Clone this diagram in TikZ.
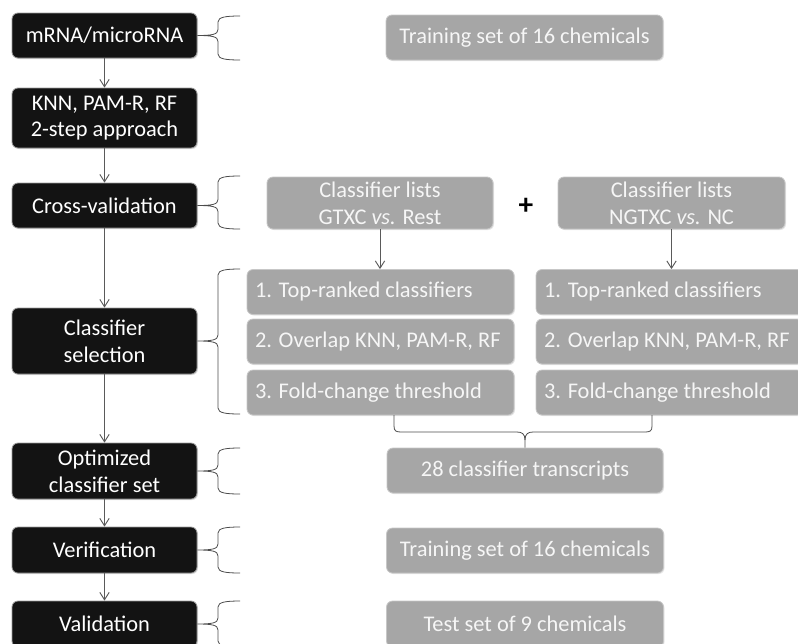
\documentclass[tikz,border=0pt]{standalone}
\usepackage{fontspec}
\setmainfont{Carlito}
\usetikzlibrary{arrows.meta,shadows}
\definecolor{blk}{HTML}{131313}
\definecolor{gbox}{HTML}{A6A6A6}
\definecolor{gtext}{HTML}{F6F6F6}
\definecolor{lineg}{HTML}{5A5A5A}
\newcommand\lbrc[4]{% node, top, bottom, mid
  \draw[brc] (240,#2) .. controls (226,#2) and (218,#2+1) .. (218,#2+6)
    -- (218,#4-6) .. controls (218,#4-1) and (212,#4) .. (#1.east)
    .. controls (212,#4) and (218,#4+1) .. (218,#4+6)
    -- (218,#3-6) .. controls (218,#3-1) and (226,#3) .. (240,#3);}
\begin{document}
\begin{tikzpicture}[x=0.75pt,y=-0.75pt,
  f/.style={font=\fontsize{16.8}{20}\selectfont},
  wh/.style 2 args={minimum width=#1*0.75pt, minimum height=#2*0.75pt},
  bbox/.style={f, rectangle, rounded corners=4.5pt, fill=blk, draw=black!40, line width=0.6pt,
    text=white, align=center, inner sep=0pt,
    drop shadow={shadow xshift=0.8pt, shadow yshift=-0.8pt, opacity=0.25}},
  gbx/.style={f, rectangle, rounded corners=4.5pt, fill=gbox, draw=black!22, line width=0.6pt,
    text=gtext, align=center, inner sep=0pt,
    drop shadow={shadow xshift=0.8pt, shadow yshift=-0.8pt, opacity=0.2}},
  stg/.style={gbx, text width=251*0.75pt, inner xsep=6pt, align=flush left, minimum height=45*0.75pt},
  conn/.style={draw=lineg, line width=0.7pt, -{Straight Barb[length=5.5pt,width=7pt]}},
  brc/.style={draw=black!70, line width=0.6pt}]
\useasboundingbox (0,0) rectangle (798,643);
\clip (0,0) rectangle (798,643);

% left column
\node[bbox, wh={185}{45}] (mrna) at (104.5,35.5) {mRNA/microRNA};
\node[bbox, wh={185}{60}] (knn) at (104.5,118) {KNN, PAM-R, RF\\2-step approach};
\node[bbox, wh={185}{45}] (cv) at (104.5,205.5) {Cross-validation};
\node[bbox, wh={185}{66}] (cs) at (104.5,341) {Classifier\\selection};
\node[bbox, wh={185}{56}] (opt) at (104.5,471) {Optimized\\classifier set};
\node[bbox, wh={185}{46}] (ver) at (104.5,550) {Verification};
\node[bbox, wh={185}{46}] (val) at (104.5,624) {Validation};

\draw[conn] (mrna) -- (knn);
\draw[conn] (knn) -- (cv);
\draw[conn] (cv) -- (cs);
\draw[conn] (cs) -- (opt);
\draw[conn] (opt) -- (ver);
\draw[conn] (ver) -- (val);

% right side
\node[gbx, wh={277}{45}] (tr1) at (524.5,37.5) {Training set of 16 chemicals};
\node[gbx, wh={226}{52}] (gt) at (380,203) {Classifier lists\\GTXC \textit{vs.} Rest};
\node[gbx, wh={227}{52}] (ng) at (671.5,203) {Classifier lists\\NGTXC \textit{vs.} NC};
\node[inner sep=0pt, font=\fontsize{22}{22}\bfseries] (plus) at (526,206) {+};

\node[stg] (l1) at (380.5,292) {1. Top-ranked classifiers};
\node[stg] (l2) at (380.5,341.5) {2. Overlap KNN, PAM-R, RF};
\node[stg] (l3) at (380.5,392.5) {3. Fold-change threshold};
\node[stg] (r1) at (669.5,292) {1. Top-ranked classifiers};
\node[stg] (r2) at (669.5,341.5) {2. Overlap KNN, PAM-R, RF};
\node[stg] (r3) at (669.5,392.5) {3. Fold-change threshold};

\draw[conn] (gt.south) -- (gt.south |- l1.north);
\draw[conn] (ng.south) -- (ng.south |- r1.north);

\node[gbx, wh={276}{45}] (t28) at (525,470.5) {28 classifier transcripts};
\node[gbx, wh={277}{45}] (tr2) at (525,550.5) {Training set of 16 chemicals};
\node[gbx, wh={277}{46}] (test) at (525,624) {Test set of 9 chemicals};

% braces
\lbrc{mrna}{16}{60}{35.5}
\lbrc{cv}{176}{229}{205.5}
\lbrc{cs}{269}{414}{341}
\lbrc{opt}{448}{494}{471}
\lbrc{ver}{527}{573}{550}
\lbrc{val}{601}{647}{624}

\draw[brc] (394,415) -- (394,426) .. controls (394,431) and (396,432) .. (401,432)
  -- (517,432) .. controls (522,432) and (525,434) .. (525,440) -- (t28.north);
\draw[brc] (652,415) -- (652,426) .. controls (652,431) and (650,432) .. (645,432)
  -- (533,432) .. controls (528,432) and (525,434) .. (525,440);
\end{tikzpicture}
\end{document}
